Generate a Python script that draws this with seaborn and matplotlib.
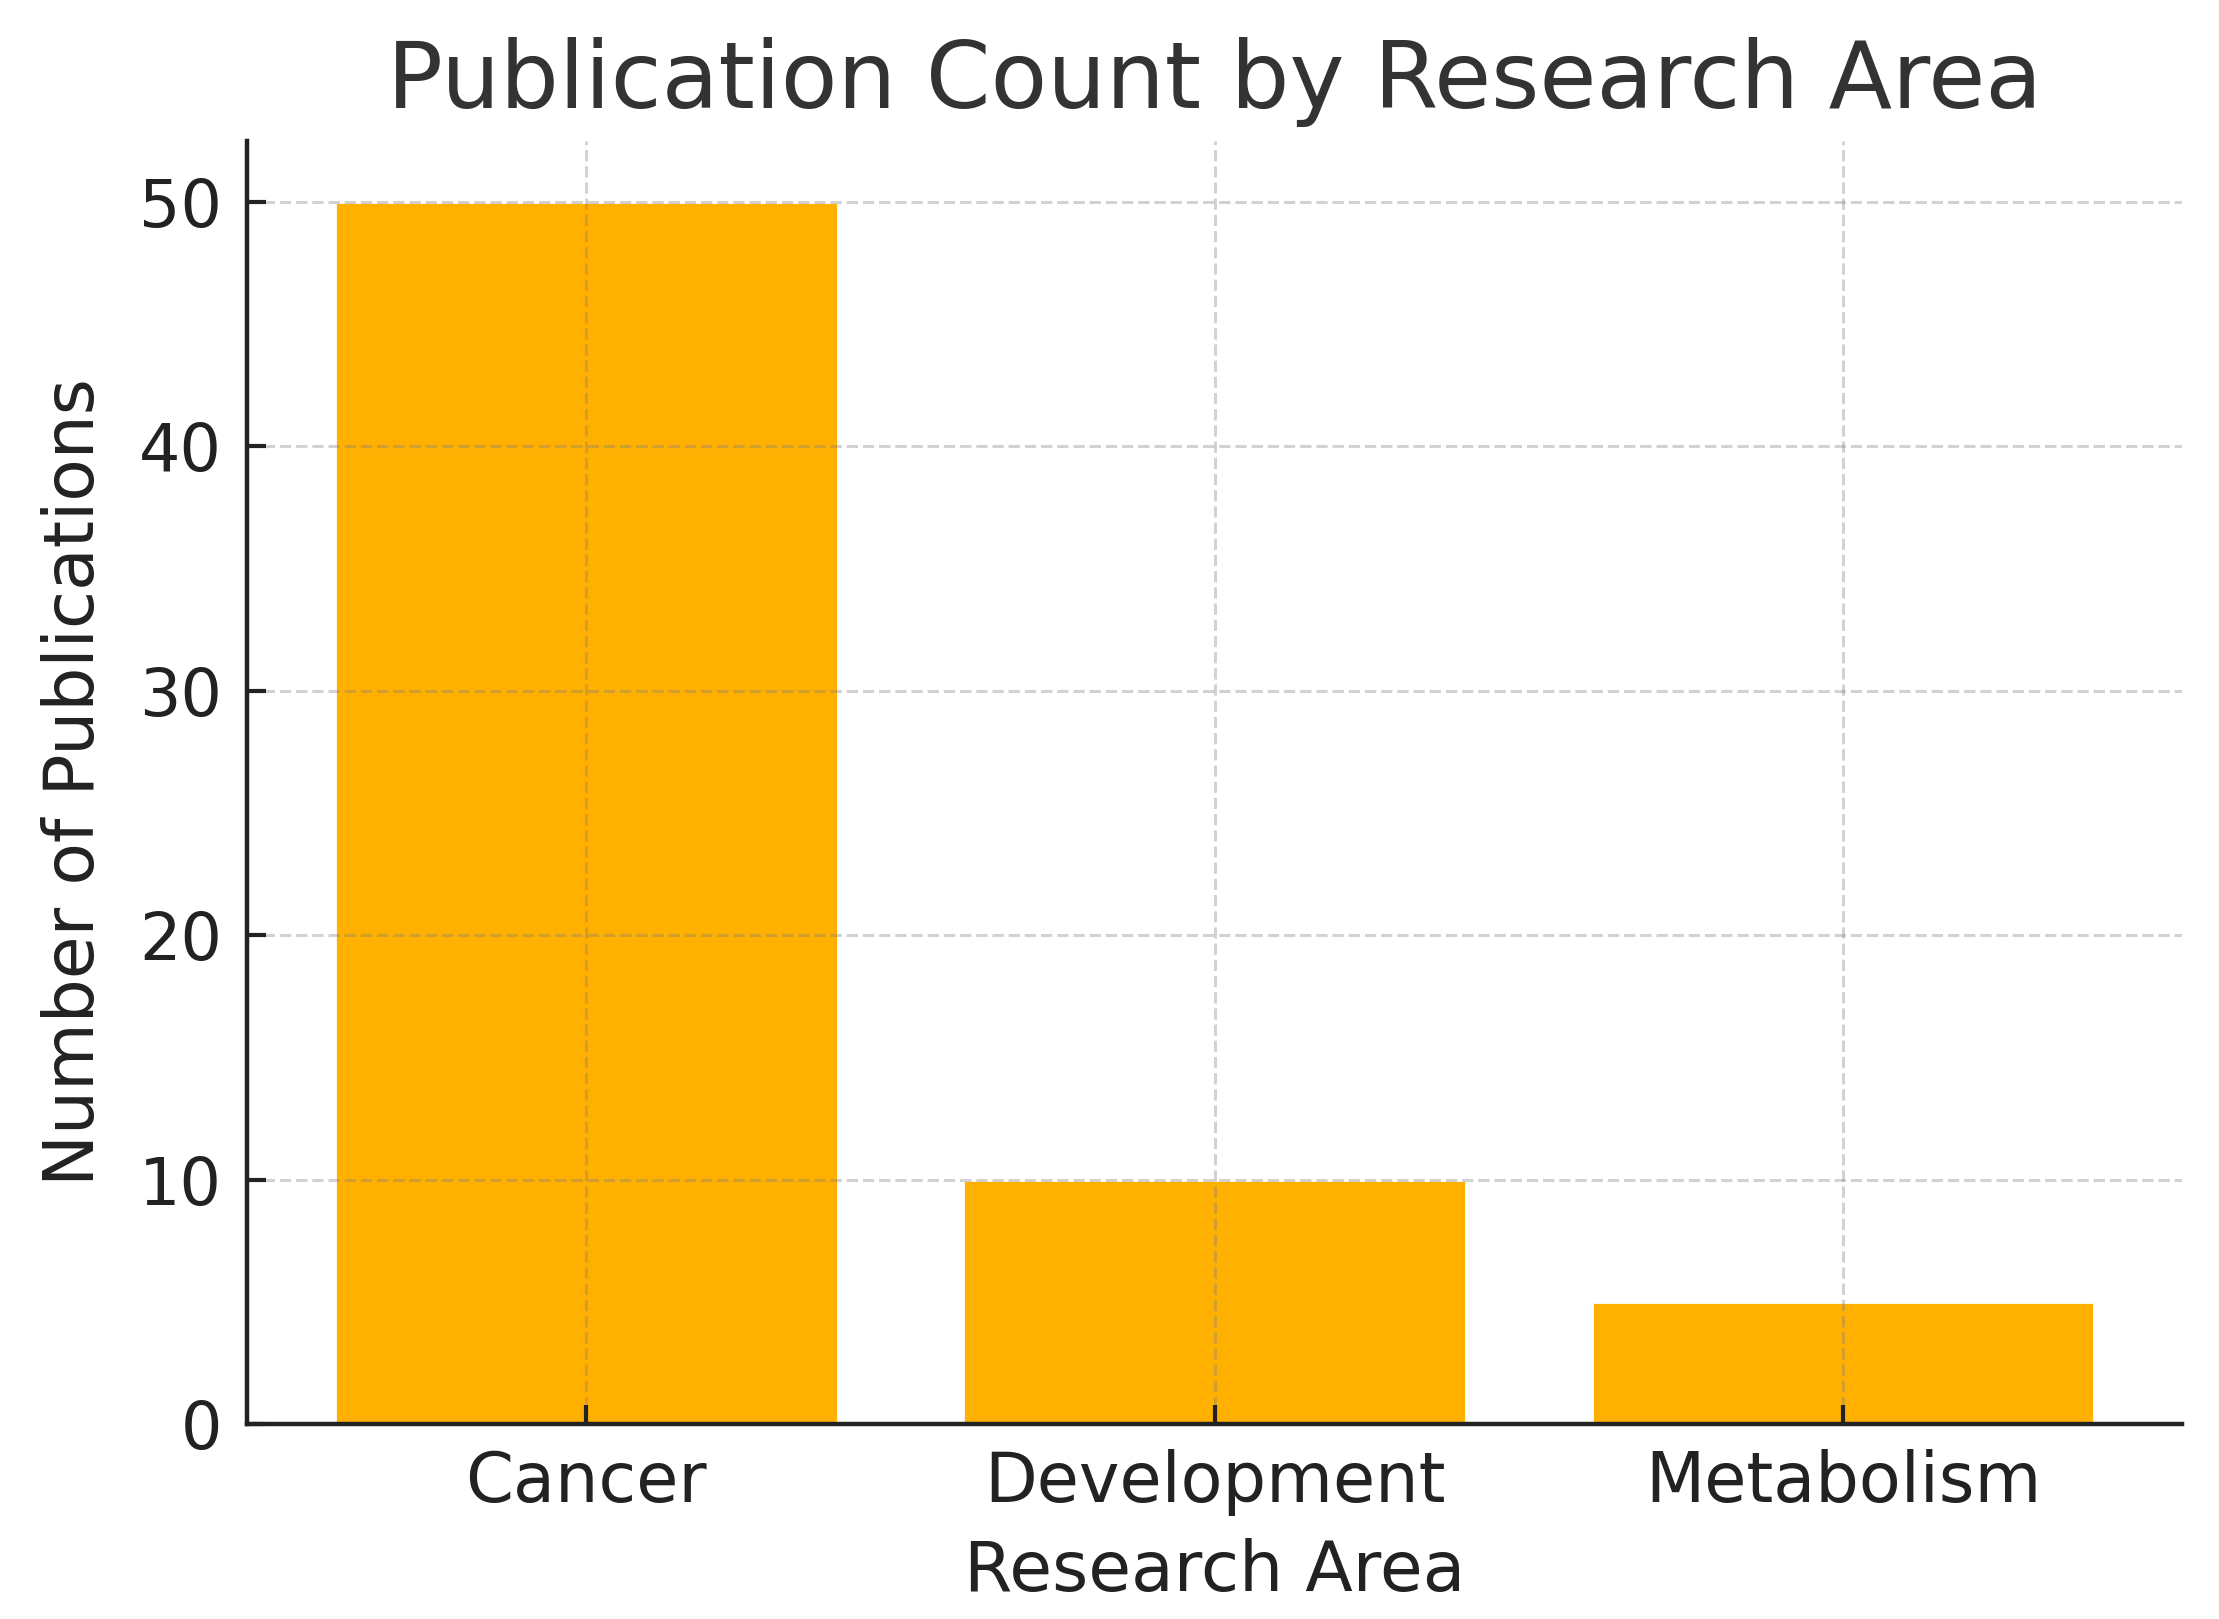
import matplotlib
matplotlib.use("Agg")
import matplotlib.pyplot as plt
import seaborn as sns
import pandas as pd

categories = ["Cancer", "Development", "Metabolism"]
counts = [50, 10, 5]
title = "Publication Count by Research Area"
xlabel = "Research Area"
ylabel = "Number of Publications"

sns.set_style("white")
plt.rcParams["font.family"] = ["DejaVu Sans"]

df = pd.DataFrame({"area": categories, "count": counts})

fig = plt.figure(figsize=(2219 / 200, 1619 / 200), dpi=200)
ax = fig.add_axes([0.1113, 0.1204, 0.9835 - 0.1113, 0.913 - 0.1204])

sns.barplot(data=df, x="area", y="count", color="#FFB000", saturation=1,
            width=0.8, ax=ax, zorder=1)

ax.set_xlim(-0.54, 2.54)
ax.set_ylim(0, 52.5)
ax.set_yticks([0, 10, 20, 30, 40, 50])

ax.set_axisbelow(False)
ax.grid(True, which="major", axis="both", linestyle="--", color="gray",
        alpha=0.35, linewidth=1.1, zorder=3)

for s in ["top", "right"]:
    ax.spines[s].set_visible(False)
for s in ["left", "bottom"]:
    ax.spines[s].set_color("#222222")
    ax.spines[s].set_linewidth(1.6)
    ax.spines[s].set_zorder(4)

ax.tick_params(axis="both", direction="in", length=7, width=1.5,
               colors="#222222", left=True, bottom=True)
ax.tick_params(axis="y", labelsize=23.5, pad=9)
ax.tick_params(axis="x", labelsize=24.7, pad=9)

ax.set_title(title, fontsize=33.4, color="#333333", pad=12)
ax.set_xlabel(xlabel, fontsize=25, color="#222222", labelpad=8)
ax.set_ylabel(ylabel, fontsize=25, color="#222222", labelpad=11)

fig.savefig("out.png", dpi=200)
